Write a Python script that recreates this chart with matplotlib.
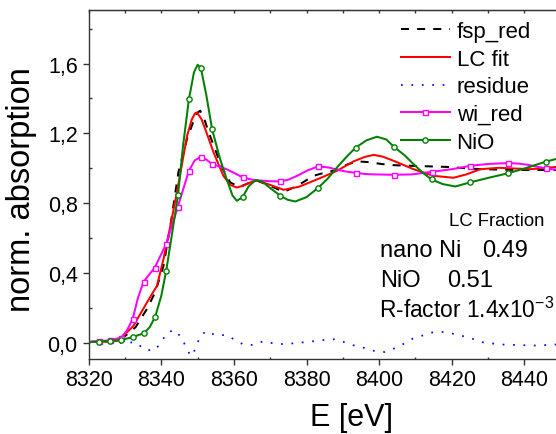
import matplotlib
matplotlib.use("Agg")
import matplotlib.pyplot as plt
from matplotlib.lines import Line2D
from matplotlib.ticker import MultipleLocator, FuncFormatter

plt.rcParams['font.family'] = ['Liberation Sans', 'DejaVu Sans']
plt.rcParams['mathtext.fontset'] = 'custom'
plt.rcParams['mathtext.rm'] = 'Liberation Sans'

# ---------------- data ----------------
fsp_E = [8320, 8325, 8329.5, 8332.9, 8336.0, 8338.3, 8340.6, 8342.5, 8344.7, 8347.1,
         8348.9, 8349.8, 8350.7, 8351.8, 8352.9, 8354.8, 8356.7, 8359.0, 8361.5, 8364.0,
         8366.3, 8370.0, 8373.7, 8377.5, 8381.9, 8385.0, 8388.4, 8391.0, 8393.9, 8397.5,
         8400.5, 8404.0, 8409.5, 8418.7, 8427.9, 8437.0, 8450]
fsp_v = [0.005, 0.008, 0.03, 0.09, 0.193, 0.289, 0.441, 0.67, 0.976, 1.17,
         1.272, 1.315, 1.33, 1.285, 1.215, 1.11, 1.005, 0.919, 0.893, 0.915,
         0.93, 0.9, 0.865, 0.9, 0.957, 0.975, 0.991, 1.02, 1.04, 1.035,
         1.025, 1.018, 1.014, 1.008, 0.995, 0.991, 0.99]

lc_E = [8320, 8325, 8328, 8329.5, 8332.3, 8336.0, 8338.8, 8340.6, 8342.5, 8344.3,
        8347.1, 8348.4, 8349.3, 8349.8, 8351.0, 8352.1, 8354.4, 8357.1, 8359.0, 8360.8,
        8362.5, 8364.5, 8366.3, 8370.0, 8373.7, 8378.0, 8381.9, 8385.0, 8388.4, 8393.0,
        8396.0, 8398.5, 8401.0, 8404.0, 8409.5, 8415.0, 8420.5, 8424.0, 8427.9, 8433.0,
        8441.6, 8450]
lc_v = [0.005, 0.008, 0.012, 0.04, 0.097, 0.23, 0.327, 0.48, 0.67, 0.862,
        1.186, 1.28, 1.315, 1.32, 1.285, 1.225, 1.091, 0.957, 0.905, 0.89,
        0.9, 0.919, 0.93, 0.905, 0.877, 0.895, 0.928, 0.955, 0.986, 1.04,
        1.065, 1.077, 1.067, 1.043, 0.995, 0.957, 0.946, 0.965, 0.995, 1.003,
        0.995, 1.01]

res_E = [8320, 8326, 8328.8, 8333.0, 8335.3, 8338.1, 8340.0, 8341.5, 8343.5, 8345.8,
         8346.8, 8348.2, 8349.7, 8350.5, 8352.4, 8355.1, 8357.9, 8360.3, 8362.8, 8365.5,
         8368.1, 8370.8, 8373.7, 8376.5, 8379.4, 8382.1, 8385.0, 8387.7, 8390.5, 8393.2,
         8396.0, 8398.7, 8401.5, 8404.1, 8406.6, 8409.1, 8411.9, 8414.6, 8417.4, 8420.1,
         8422.9, 8425.6, 8428.4, 8431.2, 8434.1, 8436.9, 8439.6, 8442.5, 8445.5, 8448.3,
         8450]
res_v = [0.0, 0.0, 0.0, 0.004, -0.038, -0.044, 0.004, 0.056, 0.075, 0.027,
         -0.029, -0.076, -0.025, 0.033, 0.069, 0.042, 0.046, 0.017, -0.011, -0.011,
         0.01, -0.002, -0.007, -0.002, 0.004, 0.01, 0.017, 0.021, 0.004, -0.015,
         -0.029, -0.046, -0.052, -0.032, -0.007, 0.023, 0.042, 0.06, 0.063, 0.054,
         0.04, 0.025, 0.004, -0.003, -0.009, -0.011, -0.013, -0.015, -0.013, -0.009,
         -0.008]

wi_E = [8320, 8322.7, 8325.9, 8328.95, 8330.5, 8332.1, 8333.6, 8335.1, 8338.2, 8341.35,
        8344.5, 8347.6, 8349.2, 8350.8, 8352.4, 8353.9, 8356.0, 8358.0, 8360.2, 8362.4,
        8365.0, 8367.2, 8370.0, 8372.8, 8375.0, 8377.4, 8380.3, 8383.2, 8386.0, 8388.0,
        8390.5, 8393.5, 8396.5, 8399.0, 8404.1, 8409.0, 8414.5, 8417.5, 8420.0, 8422.5,
        8425.0, 8430.0, 8435.6, 8438.5, 8441.0, 8446.0, 8450]
wi_v = [0.008, 0.01, 0.015, 0.031, 0.07, 0.136, 0.26, 0.35, 0.432, 0.567,
        0.776, 0.986, 1.045, 1.066, 1.05, 1.026, 1.01, 0.995, 0.972, 0.948,
        0.935, 0.93, 0.926, 0.925, 0.935, 0.957, 0.988, 1.011, 1.005, 0.995,
        0.983, 0.974, 0.967, 0.965, 0.963, 0.965, 0.98, 0.988, 0.995, 1.004,
        1.014, 1.025, 1.03, 1.027, 1.02, 0.999, 0.99]

nio_E = [8320, 8322.7, 8325.9, 8328.95, 8332.1, 8335.2, 8336.8, 8338.3, 8340.0, 8341.35,
         8343.0, 8344.6, 8346.0, 8347.6, 8349.0, 8350.0, 8350.9, 8352.4, 8354.0, 8356.2,
         8358.0, 8359.6, 8360.8, 8362.4, 8364.0, 8365.9, 8367.8, 8369.5, 8372.8, 8374.8,
         8376.9, 8380.0, 8383.2, 8385.8, 8388.4, 8391.0, 8393.5, 8396.5, 8399.4, 8402.0,
         8404.1, 8407.0, 8409.5, 8412.0, 8414.5, 8417.5, 8421.0, 8425.0, 8430.0, 8435.6,
         8441.0, 8446.0, 8450]
nio_v = [0.005, 0.008, 0.012, 0.017, 0.033, 0.056, 0.09, 0.149, 0.27, 0.413,
         0.63, 0.846, 1.13, 1.395, 1.55, 1.593, 1.574, 1.42, 1.223, 1.053,
         0.938, 0.845, 0.814, 0.835, 0.895, 0.932, 0.925, 0.895, 0.843, 0.82,
         0.81, 0.835, 0.888, 0.94, 1.005, 1.065, 1.118, 1.16, 1.181, 1.165,
         1.123, 1.075, 1.024, 0.975, 0.936, 0.91, 0.896, 0.919, 0.945, 0.972,
         1.005, 1.039, 1.06]

marker_E = [8322.7, 8325.9, 8328.95, 8332.1, 8335.1, 8335.2, 8338.2, 8338.3, 8341.35,
            8344.5, 8344.6, 8347.6, 8350.8, 8350.9, 8353.9, 8354.0, 8362.4, 8372.8,
            8383.2, 8393.5, 8404.1, 8414.5, 8425.0, 8435.6, 8446.0]

labels = ['fsp_red', 'LC fit', 'residue', 'wi_red', 'NiO']
y_ticks = [0.0, 0.4, 0.8, 1.2, 1.6]
x_ticks = [8320, 8340, 8360, 8380, 8400, 8420, 8440]

# ---------------- figure ----------------
W, H = 556, 435
fig = plt.figure(figsize=(W / 100, H / 100), dpi=100)
ax = fig.add_axes([88.7 / W, 1 - 360 / H, (560.6 - 88.7) / W, (360 - 11.3) / H])


def mk(E):
    return [i for i, e in enumerate(E) if e in marker_E]


lw = 1.45
ax.plot(fsp_E, fsp_v, color='black', lw=lw, ls=(0, (4, 4)), zorder=3)
ax.plot(lc_E, lc_v, color='#ff0000', lw=lw, zorder=4)
ax.plot(res_E, res_v, color='#0000ff', lw=1.25, ls=(0, (1, 5)), zorder=2)
ax.plot(wi_E, wi_v, color='#ff00ff', lw=lw, marker='s', ms=3.6, mfc='white',
        mew=1.0, markevery=mk(wi_E), zorder=5)
ax.plot(nio_E, nio_v, color='#008000', lw=lw, marker='o', ms=3.8, mfc='white',
        mew=1.0, markevery=mk(nio_E), zorder=6)

ax.set_xlim(8320, 8450)
ax.set_ylim(-0.092, 1.905)

ax.set_xticks(x_ticks)
ax.set_yticks(y_ticks)
ax.xaxis.set_minor_locator(MultipleLocator(10))
ax.yaxis.set_minor_locator(MultipleLocator(0.2))
ax.yaxis.set_major_formatter(FuncFormatter(lambda v, p: f"{v:.1f}".replace('.', ',')))
ax.tick_params(axis='both', which='major', direction='out', length=4.4, width=1.0,
               color='#333333', labelsize=15.5, labelcolor='black')
ax.tick_params(axis='x', which='major', pad=3.0)
ax.tick_params(axis='y', which='major', pad=3.5)
ax.tick_params(axis='both', which='minor', direction='in', length=1.8, width=1.0,
               color='#333333')
for s in ax.spines.values():
    s.set_color('#333333')
    s.set_linewidth(1.0)

sec = ax.secondary_xaxis('top')
sec.set_xticks(x_ticks)
sec.xaxis.set_minor_locator(MultipleLocator(10))
sec.tick_params(which='both', direction='in', length=1.8, width=1.0, color='#333333',
                labeltop=False)
sec.spines['top'].set_color('#333333')

fig.text(352 / W, 1 - 426 / H, 'E [eV]', fontsize=22, ha='center', va='baseline')
fig.text(22 / W, 1 - 190 / H, 'norm. absorption', fontsize=23.5, rotation=90,
         ha='center', va='center')

handles = [
    Line2D([], [], color='black', lw=lw, ls=(0, (4, 4))),
    Line2D([], [], color='#ff0000', lw=lw),
    Line2D([], [], color='#0000ff', lw=1.25, ls=(0, (1, 5))),
    Line2D([], [], color='#ff00ff', lw=lw, marker='s', ms=3.6, mfc='white', mew=1.0),
    Line2D([], [], color='#008000', lw=lw, marker='o', ms=3.8, mfc='white', mew=1.0),
]
fig.legend(handles, labels, loc='upper left', bbox_to_anchor=(401 / W, 1 - 22.0 / H),
           frameon=False, fontsize=16, handlelength=2.2, handletextpad=0.3,
           labelspacing=0.3, borderpad=0, borderaxespad=0, numpoints=1)

fig.text(449 / W, 1 - 225.7 / H, 'LC Fraction', fontsize=13.3, va='baseline')
fig.text(380 / W, 1 - 257 / H, 'nano Ni', fontsize=17, va='baseline')
fig.text(482 / W, 1 - 257 / H, '0.49', fontsize=17, va='baseline')
fig.text(380 / W, 1 - 287 / H, 'NiO', fontsize=17, va='baseline')
fig.text(447 / W, 1 - 287 / H, '0.51', fontsize=17, va='baseline')
fig.text(379 / W, 1 - 318 / H, r'R-factor 1.4x10$^{\mathregular{-3}}$', fontsize=16.4,
         va='baseline')

fig.savefig('out.png', dpi=100)
